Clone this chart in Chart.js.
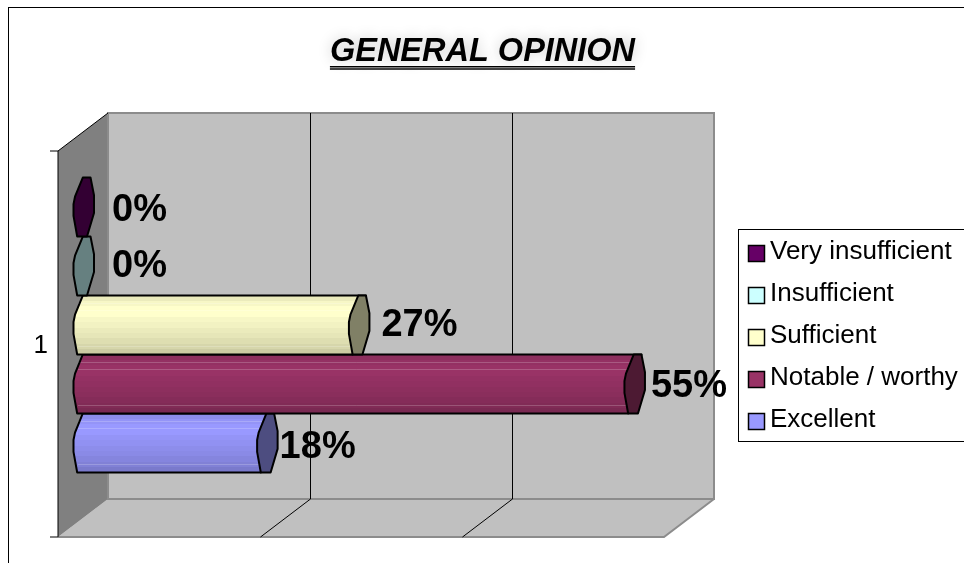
<!DOCTYPE html>
<html>
<head>
<meta charset="utf-8">
<title>General opinion</title>
<script src="https://cdn.jsdelivr.net/npm/chart.js@4"></script>
<style>
  html, body { margin: 0; padding: 0; background: #fff; overflow: hidden; }
  canvas { display: block; }
</style>
</head>
<body>
<canvas id="opinion-chart" width="964" height="563"></canvas>
<script>
// chart data
const chartTitle = 'GENERAL OPINION';
const categories = ['1'];
const seriesNames = ['Very insufficient', 'Insufficient', 'Sufficient', 'Notable / worthy', 'Excellent'];
const seriesValues = [0, 0, 27.27, 54.55, 18.18];
const seriesColors = ['#660066', '#ccffff', '#ffffcc', '#993366', '#9999ff'];
const capColors = ['#330033', '#668080', '#808066', '#4d1a33', '#4d4d80'];
const gridValues = [20, 40];
const axisMax = 60;

// look of the fake 3D box
const frontShift = { x: -26, y: 19 };
const backShift = { x: 24, y: -19 };
const catPercent = 0.764;
const labelGaps = [28, 28, 22, 16, 12];
const labelDrops = [3, 0, 1, 3, 5];
const barShades = [0.92, 0.97, 1, 1, 0.97, 0.95, 0.92, 0.9, 0.87, 0.84, 0.8];
const barLines = [0.13, 0.24, 0.86];
// outline of a bar end, x in pixels, y as a part of half the bar height
const capRight = [[6.5, -1], [10, -0.4], [10, 0.2], [3, 1]];
const capLeft = [[-6.8, 1], [-10.5, 0.3], [-10.5, -0.1], [-9, -0.35], [-1.2, -1]];
const fontName = '"Liberation Sans", Arial, sans-serif';

function shade(hex, f) {
    const n = parseInt(hex.slice(1), 16);
    const ch = [n >> 16, (n >> 8) & 255, n & 255].map(v => Math.round(Math.min(255, v * f)));
    return `rgb(${ch[0]},${ch[1]},${ch[2]})`;
}

// banded vertical gradient, one per series
function barGradient(c) {
    const base = seriesColors[c.datasetIndex];
    const area = c.chart.chartArea;
    if (!area) return base;
    const h = area.height * catPercent / seriesNames.length;
    const top = area.top + area.height * (1 - catPercent) / 2 + c.datasetIndex * h;
    const g = c.chart.ctx.createLinearGradient(0, top, 0, top + h);
    barShades.forEach((f, i) => {
        g.addColorStop(i / barShades.length, shade(base, f));
        g.addColorStop((i + 1) / barShades.length, shade(base, f));
    });
    return g;
}

// outline of the rounded start and the body of a bar
function bodyPath(ctx, bar, x0) {
    const ry = bar.height / 2;
    ctx.beginPath();
    capLeft.forEach(p => ctx.lineTo(x0 + p[0], bar.y + p[1] * ry));
    ctx.lineTo(bar.x + capRight[0][0], bar.y - ry);
    ctx.lineTo(bar.x + capLeft[0][0], bar.y + ry);
    ctx.closePath();
}

const boxPlugin = {
    id: 'box3d',
    beforeDraw(chart) {
        const { ctx } = chart;
        ctx.save();
        // frame of the chart object
        ctx.strokeStyle = '#000';
        ctx.lineWidth = 1;
        ctx.strokeRect(8.5, 7.5, 2000, 2000);
        // title with a soft haze behind it
        ctx.font = `italic bold 32.5px ${fontName}`;
        ctx.textAlign = 'center';
        ctx.textBaseline = 'middle';
        ctx.shadowColor = 'rgba(0,0,0,0.22)';
        ctx.shadowBlur = 14;
        ctx.fillStyle = '#000';
        ctx.fillText(chartTitle, chart.width / 2 + 0.5, 52);
        ctx.shadowColor = 'transparent';
        // double underline
        const w = ctx.measureText(chartTitle).width;
        const x0 = chart.width / 2 + 0.5 - w / 2;
        ctx.lineWidth = 1.4;
        [66.7, 69].forEach(y => {
            ctx.beginPath();
            ctx.moveTo(x0, y);
            ctx.lineTo(x0 + w, y);
            ctx.stroke();
        });
        ctx.restore();
    },
    beforeDatasetsDraw(chart) {
        const { ctx, chartArea: a, scales } = chart;
        const bl = a.left + backShift.x, br = a.right + backShift.x;
        const bt = a.top + backShift.y, bb = a.bottom + backShift.y;
        const fl = a.left + frontShift.x, fr = a.right + frontShift.x;
        const ft = a.top + frontShift.y, fb = a.bottom + frontShift.y;
        ctx.save();
        // back wall
        ctx.fillStyle = '#c0c0c0';
        ctx.fillRect(bl, bt, br - bl, bb - bt);
        // floor
        ctx.beginPath();
        ctx.moveTo(bl, bb); ctx.lineTo(br, bb); ctx.lineTo(fr, fb); ctx.lineTo(fl, fb);
        ctx.closePath();
        ctx.fill();
        // side wall
        ctx.fillStyle = '#808080';
        ctx.beginPath();
        ctx.moveTo(fl, ft); ctx.lineTo(bl, bt); ctx.lineTo(bl, bb); ctx.lineTo(fl, fb);
        ctx.closePath();
        ctx.fill();
        // grey edges
        ctx.strokeStyle = '#8c8c8c';
        ctx.lineWidth = 2;
        ctx.strokeRect(bl, bt, br - bl, bb - bt);
        ctx.beginPath();
        ctx.moveTo(br, bb); ctx.lineTo(fr, fb); ctx.lineTo(fl, fb);
        ctx.stroke();
        // grid lines from the value scale
        ctx.strokeStyle = '#000';
        ctx.lineWidth = 1;
        gridValues.forEach(v => {
            const x = Math.round(scales.x.getPixelForValue(v)) + 0.5;
            ctx.beginPath();
            ctx.moveTo(x + backShift.x, bt);
            ctx.lineTo(x + backShift.x, bb);
            ctx.lineTo(x + frontShift.x, fb);
            ctx.stroke();
        });
        // black edges and the two tick marks
        ctx.beginPath();
        ctx.moveTo(bl, bt); ctx.lineTo(fl, ft); ctx.lineTo(fl, fb);
        ctx.moveTo(fl - 8, ft); ctx.lineTo(fl, ft);
        ctx.moveTo(fl - 8, fb); ctx.lineTo(fl, fb);
        ctx.stroke();
        ctx.restore();
    },
    afterDatasetDraw(chart, args) {
        const { ctx } = chart;
        const bar = args.meta.data[0];
        const i = args.index;
        const ry = bar.height / 2;
        const x0 = chart.scales.x.getPixelForValue(0);
        ctx.save();
        ctx.strokeStyle = '#000';
        ctx.lineWidth = 2;
        ctx.lineJoin = 'round';
        if (bar.x > x0) {
            bodyPath(ctx, bar, x0);
            ctx.fillStyle = bar.options.backgroundColor;
            ctx.fill();
            // thin light streaks on the body
            ctx.save();
            ctx.strokeStyle = 'rgba(255,255,255,0.2)';
            ctx.lineWidth = 1;
            barLines.forEach(f => {
                const y = Math.round(bar.y - ry + f * bar.height) + 0.5;
                ctx.beginPath();
                ctx.moveTo(x0 - 6, y);
                ctx.lineTo(bar.x, y);
                ctx.stroke();
            });
            ctx.restore();
            bodyPath(ctx, bar, x0);
            ctx.stroke();
        }
        // end cap
        ctx.beginPath();
        capRight.concat(capLeft).forEach(p => ctx.lineTo(bar.x + p[0], bar.y + p[1] * ry));
        ctx.closePath();
        ctx.fillStyle = capColors[i];
        ctx.fill();
        ctx.stroke();
        ctx.restore();
    },
    afterDatasetsDraw(chart) {
        const { ctx } = chart;
        ctx.save();
        // value labels
        ctx.fillStyle = '#000';
        ctx.font = `bold 38px ${fontName}`;
        ctx.textAlign = 'left';
        ctx.textBaseline = 'middle';
        seriesValues.forEach((v, i) => {
            const bar = chart.getDatasetMeta(i).data[0];
            ctx.fillText(Math.round(v) + '%', bar.x + labelGaps[i], bar.y + labelDrops[i]);
        });
        // legend box
        ctx.fillStyle = '#fff';
        ctx.fillRect(738.5, 229.5, 300, 212);
        ctx.strokeStyle = '#000';
        ctx.lineWidth = 1;
        ctx.strokeRect(738.5, 229.5, 300, 212);
        ctx.font = `26px ${fontName}`;
        seriesNames.forEach((name, i) => {
            const y = 253.5 + i * 42;
            ctx.fillStyle = seriesColors[i];
            ctx.fillRect(748.5, y - 8, 16, 16);
            ctx.lineWidth = 1.5;
            ctx.strokeRect(748.5, y - 8, 16, 16);
            ctx.fillStyle = '#000';
            ctx.fillText(name, 770, y - 2);
        });
        ctx.restore();
    }
};

new Chart(document.getElementById('opinion-chart'), {
    type: 'bar',
    data: {
        labels: categories,
        datasets: seriesNames.map((name, i) => ({
            label: name,
            data: [seriesValues[i]],
            backgroundColor: barGradient,
            borderWidth: 0,
            barPercentage: 1,
            categoryPercentage: catPercent
        }))
    },
    options: {
        indexAxis: 'y',
        responsive: false,
        animation: false,
        layout: { padding: { top: 132, right: 274, bottom: 45, left: 0 } },
        scales: {
            x: { display: false, min: 0, max: axisMax, grid: { display: false } },
            y: {
                // the big tick padding would otherwise eat into the plot height
                afterFit(scale) { scale.width = 84; scale.paddingTop = 0; scale.paddingBottom = 0; },
                grid: { display: false, drawTicks: false },
                border: { display: false },
                ticks: {
                    color: '#000',
                    padding: 36,
                    labelOffset: 21,
                    font: { family: fontName, size: 26 }
                }
            }
        },
        plugins: {
            legend: { display: false },
            tooltip: { enabled: false }
        }
    },
    plugins: [boxPlugin]
});
</script>
</body>
</html>
